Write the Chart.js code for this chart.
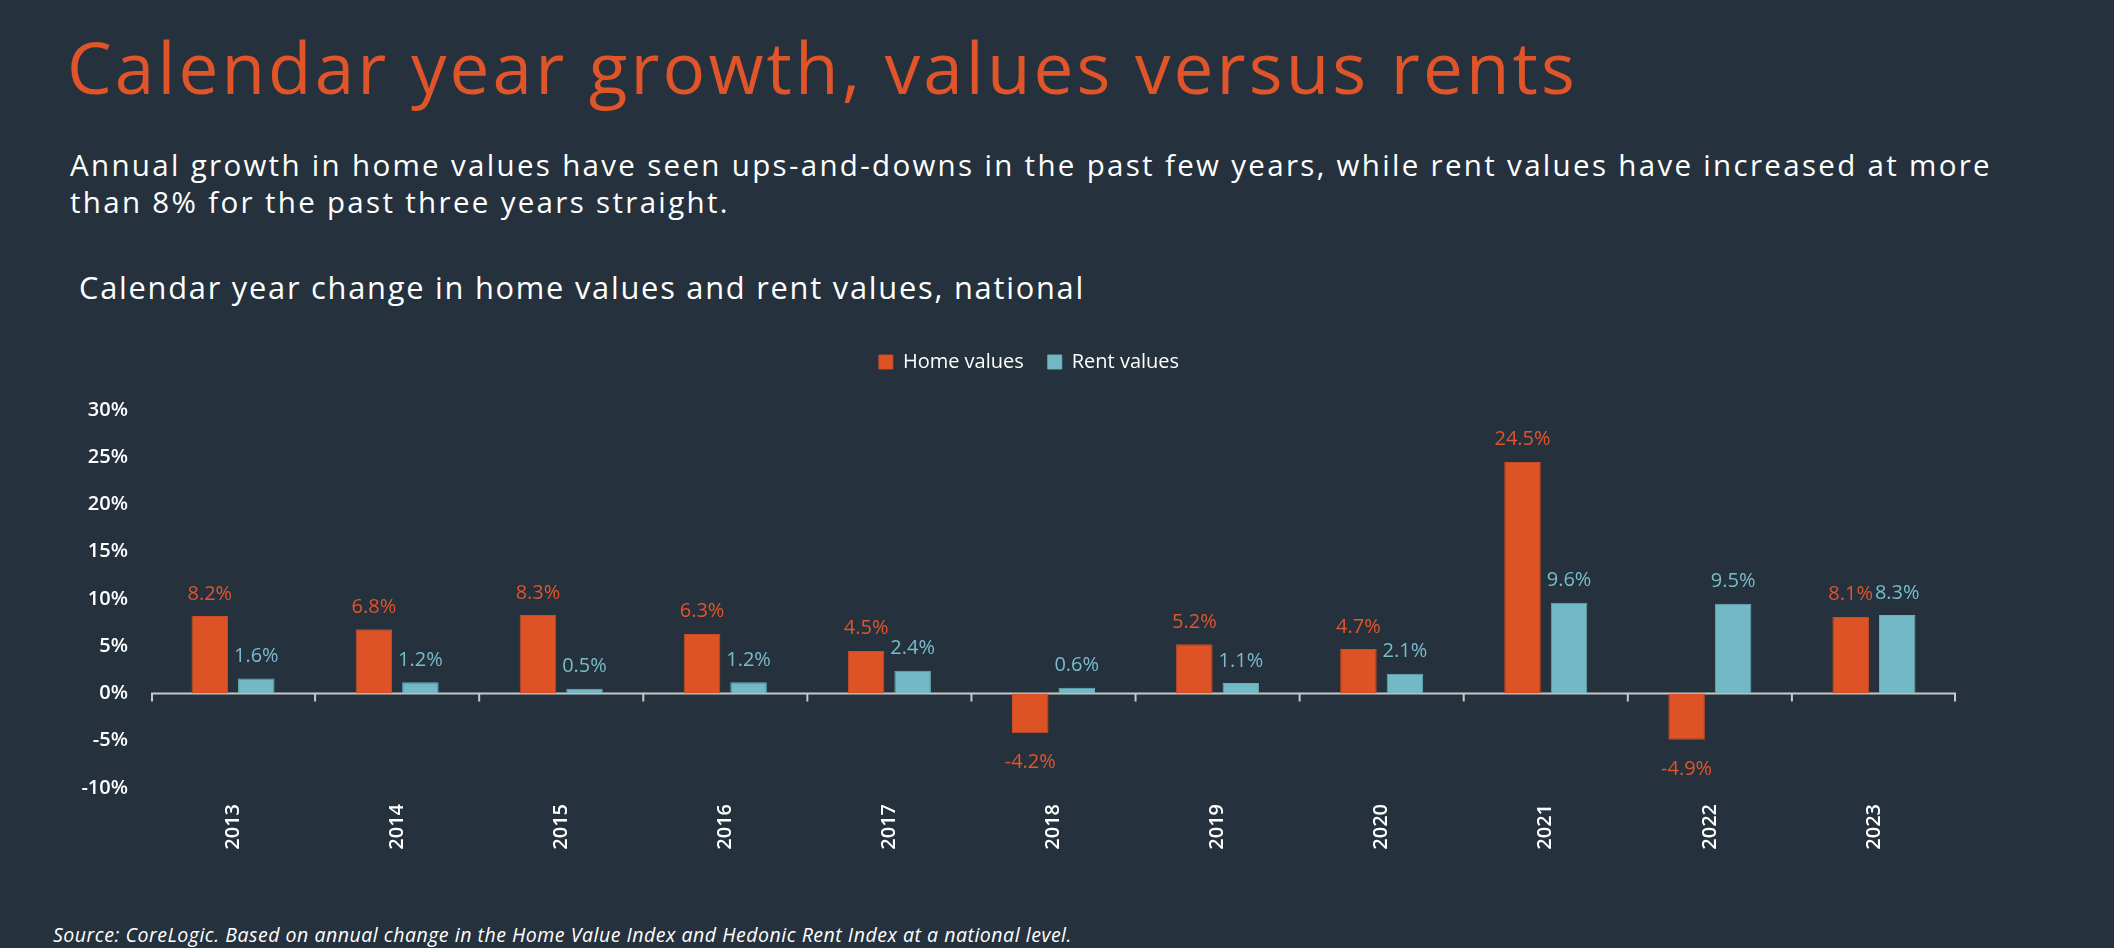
<!DOCTYPE html>
<html>
<head>
<meta charset="utf-8">
<script src="https://cdn.jsdelivr.net/npm/chart.js@4.4.0/dist/chart.umd.min.js"></script>
<style>
html,body{margin:0;padding:0;background:#25313c;width:2114px;height:948px;overflow:hidden;font-family:'Open Sans',sans-serif;}
.t{position:absolute;white-space:nowrap;line-height:1;margin:0;}
#title{left:67px;top:31px;font-size:71px;color:#e0542a;font-weight:400;}
#sub1{left:70px;top:150px;font-size:29.5px;color:#ffffff;font-weight:500;}
#sub2{left:70px;top:187px;font-size:29.5px;color:#ffffff;font-weight:500;}
#heading{left:79px;top:272px;font-size:30.8px;color:#ffffff;font-weight:500;}
#source{left:53px;top:925px;font-size:19.5px;color:#ffffff;font-style:italic;}
#wrap{position:absolute;left:0;top:328px;width:2058px;height:540px;}
</style>
</head>
<body>
<div class="t" id="title">Calendar year growth, values versus rents</div>
<div class="t" id="sub1">Annual growth in home values have seen ups-and-downs in the past few years, while rent values have increased at more</div>
<div class="t" id="sub2">than 8% for the past three years straight.</div>
<div class="t" id="heading">Calendar year change in home values and rent values, national</div>
<div class="t" id="source">Source: CoreLogic. Based on annual change in the Home Value Index and Hedonic Rent Index at a national level.</div>
<div id="wrap"><canvas id="c" width="2058" height="540"></canvas></div>
<script>
const years = ['2013','2014','2015','2016','2017','2018','2019','2020','2021','2022','2023'];
const homeValues = [8.2, 6.8, 8.3, 6.3, 4.5, -4.2, 5.2, 4.7, 24.5, -4.9, 8.1];
const rentValues = [1.6, 1.2, 0.5, 1.2, 2.4, 0.6, 1.1, 2.1, 9.6, 9.5, 8.3];
const yMin = -10, yMax = 30, yStep = 5;

function fitWidth(id, target) {
  const el = document.getElementById(id);
  const w = el.getBoundingClientRect().width;
  const n = el.textContent.length;
  const ls = (target - w) / n;
  el.style.letterSpacing = ls + 'px';
  return ls;
}
fitWidth('title', 1511);
const ls = fitWidth('sub1', 1922);
document.getElementById('sub2').style.letterSpacing = ls + 'px';
fitWidth('heading', 1006);
fitWidth('source', 1019);

const ORANGE = '#dd5325';
const TEAL = '#72b8c5';

const valueLabels = {
  id: 'valueLabels',
  afterDatasetsDraw(chart) {
    const ctx = chart.ctx;
    chart.data.datasets.forEach((ds, i) => {
      const meta = chart.getDatasetMeta(i);
      meta.data.forEach((bar, j) => {
        const v = ds.data[j];
        ctx.save();
        ctx.font = '400 20px "Open Sans"';
        ctx.fillStyle = ds.labelColor;
        ctx.textAlign = 'center';
        ctx.textBaseline = 'alphabetic';
        const y = v >= 0 ? bar.y - 16.5 : bar.y + 35;
        ctx.fillText(v.toFixed(1) + '%', bar.x, y);
        ctx.restore();
      });
    });
  }
};

const zeroAxis = {
  id: 'zeroAxis',
  beforeDatasetsDraw(chart) {
    const ctx = chart.ctx;
    const xs = chart.scales.x, ys = chart.scales.y;
    const y0 = ys.getPixelForValue(0);
    const area = chart.chartArea;
    ctx.save();
    ctx.strokeStyle = '#c8c8c8';
    ctx.lineWidth = 2;
    ctx.beginPath();
    ctx.moveTo(area.left, y0);
    ctx.lineTo(area.right, y0);
    ctx.stroke();
    const n = years.length;
    for (let i = 0; i <= n; i++) {
      let x;
      if (i === 0) x = area.left + 1;
      else if (i === n) x = area.right - 1;
      else x = (xs.getPixelForValue(i - 1) + xs.getPixelForValue(i)) / 2;
      ctx.beginPath();
      ctx.moveTo(x, y0);
      ctx.lineTo(x, y0 + 8);
      ctx.stroke();
    }
    ctx.restore();
  }
};

new Chart(document.getElementById('c'), {
  type: 'bar',
  data: {
    labels: years,
    datasets: [
      { label: 'Home values', data: homeValues, backgroundColor: ORANGE, borderColor: '#c84c28', borderWidth: 1, labelColor: '#e0552b',
        categoryPercentage: 0.567, barPercentage: 0.785 },
      { label: 'Rent values', data: rentValues, backgroundColor: TEAL, borderColor: '#6aaebb', borderWidth: 1, labelColor: '#78bccb',
        categoryPercentage: 0.567, barPercentage: 0.785 }
    ]
  },
  options: {
    responsive: false,
    animation: false,
    layout: { padding: 0 },
    plugins: {
      legend: {
        display: true,
        position: 'top',
        labels: { color: '#ffffff', font: { family: 'Open Sans', size: 20, weight: '500' }, boxWidth: 14, boxHeight: 14, padding: 24 }
      },
      tooltip: { enabled: false }
    },
    scales: {
      x: {
        position: 'bottom',
        grid: { display: false, drawTicks: false },
        border: { display: false },
        ticks: { color: '#ffffff', font: { family: 'Open Sans', size: 20, weight: '600' }, minRotation: 90, maxRotation: 90, padding: 16 },
        afterFit(s) { s.height = 80; }
      },
      xTop: {
        type: 'category',
        position: 'top',
        grid: { display: false, drawTicks: false },
        border: { display: false },
        ticks: { display: false },
        afterFit(s) { s.height = 28; }
      },
      y: {
        min: yMin, max: yMax,
        position: 'left',
        grid: { display: false, drawTicks: false },
        border: { display: false },
        ticks: { stepSize: yStep, color: '#ffffff', font: { family: 'Open Sans', size: 20, weight: '600' }, padding: 23,
          callback: v => v + '%' },
        afterFit(s) { s.width = 151; }
      },
      yRight: {
        type: 'linear',
        position: 'right',
        grid: { display: false, drawTicks: false },
        border: { display: false },
        ticks: { display: false },
        afterFit(s) { s.width = 102; }
      }
    }
  },
  plugins: [zeroAxis, valueLabels]
});
</script>
</body>
</html>
